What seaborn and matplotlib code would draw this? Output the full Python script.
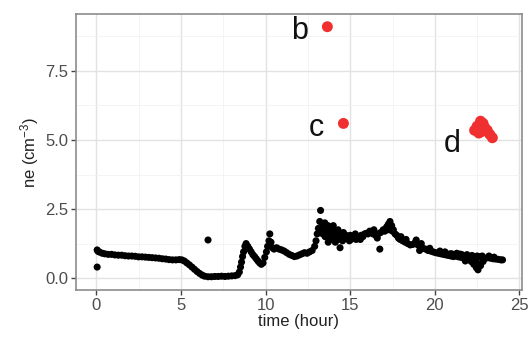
import matplotlib
matplotlib.use("Agg")
import matplotlib.pyplot as plt
import seaborn as sns
import pandas as pd
from matplotlib.ticker import MultipleLocator

# ---- data ----
time_black = [0.05, 0.05, 0.1, 0.2, 0.35, 0.5, 0.7, 0.9, 1.1, 1.3, 1.5, 1.7, 1.9, 2.1, 2.3, 2.5,
              2.7, 2.9, 3.1, 3.3, 3.5, 3.7, 3.9, 4.1, 4.3, 4.5, 4.7, 4.9, 5.05, 5.2, 5.35, 5.5,
              5.65, 5.8, 5.95, 6.1, 6.25, 6.4, 6.6, 6.6, 6.8, 7.0, 7.2, 7.4, 7.6, 7.8, 8.0, 8.2,
              8.35, 8.45, 8.52, 8.58, 8.64, 8.7, 8.78, 8.85, 8.95, 9.05, 9.15, 9.25, 9.35, 9.45,
              9.55, 9.65, 9.75, 9.85, 9.95, 10.05, 10.12, 10.2, 10.25, 10.32, 10.4, 10.5, 10.65,
              10.8, 10.95, 11.1, 11.25, 11.4, 11.55, 11.7, 11.85, 12.0, 12.15, 12.3, 12.45, 12.6,
              12.75, 12.9, 12.98, 13.05, 13.12, 13.2, 13.25, 13.3, 13.38, 13.45, 13.5, 13.52, 13.6,
              13.68, 13.7, 13.75, 13.82, 13.9, 13.98, 14.0, 14.05, 14.12, 14.2, 14.28, 14.35, 14.4,
              14.45, 14.55, 14.65, 14.75, 14.85, 14.95, 15.05, 15.15, 15.25, 15.35, 15.45, 15.55,
              15.65, 15.75, 15.85, 15.95, 16.05, 16.15, 16.25, 16.35, 16.5, 16.65, 16.75, 16.8,
              16.95, 17.05, 17.15, 17.25, 17.3, 17.35, 17.45, 17.55, 17.65, 17.75, 17.85, 17.95,
              18.1, 18.25, 18.4, 18.55, 18.7, 18.85, 18.9, 19.0, 19.15, 19.2, 19.3, 19.45, 19.6,
              19.75, 19.9, 20.05, 20.2, 20.35, 20.5, 20.6, 20.65, 20.8, 20.95, 21.0, 21.1, 21.25,
              21.4, 21.5, 21.55, 21.7, 21.8, 21.85, 21.9, 22.0, 22.15, 22.2, 22.3, 22.4, 22.45,
              22.5, 22.55, 22.6, 22.7, 22.8, 22.85, 23.0, 23.15, 23.3, 23.45, 23.6, 23.75, 23.9, 24.0,
              13.4, 13.65, 13.85, 14.1, 14.3, 14.6, 15.0, 15.3, 15.6, 16.4, 16.6, 17.2, 17.5,
              18.0, 18.3, 19.1, 19.7, 20.3, 20.9, 21.3, 21.6, 22.1, 22.65, 22.9, 23.2, 23.5]
ne_black = [1.02, 0.40, 0.97, 0.94, 0.90, 0.88, 0.86, 0.86, 0.84, 0.83, 0.83, 0.81, 0.80, 0.80, 0.79, 0.77,
            0.77, 0.76, 0.75, 0.74, 0.73, 0.72, 0.70, 0.69, 0.67, 0.66, 0.66, 0.67, 0.66, 0.62, 0.55, 0.48,
            0.40, 0.32, 0.24, 0.17, 0.11, 0.07, 0.05, 1.38, 0.05, 0.06, 0.06, 0.07, 0.06, 0.07, 0.08, 0.09,
            0.12, 0.22, 0.40, 0.58, 0.78, 0.95, 1.15, 1.25, 1.15, 1.05, 0.95, 0.85, 0.78, 0.70,
            0.62, 0.55, 0.50, 0.55, 0.75, 0.95, 1.15, 1.35, 1.60, 1.30, 1.10, 1.05, 1.10,
            1.05, 1.02, 0.98, 0.92, 0.86, 0.82, 0.78, 0.80, 0.84, 0.88, 0.92, 0.90, 0.95,
            1.00, 1.15, 1.35, 1.60, 1.80, 2.05, 2.45, 1.75, 1.60, 1.85, 2.00, 1.50, 1.70,
            1.90, 1.30, 1.55, 1.40, 1.70, 1.60, 1.90, 1.45, 1.30, 1.55, 1.75, 1.60, 1.10,
            1.50, 1.35, 1.45, 1.55, 1.45, 1.35, 1.40, 1.50, 1.45, 1.40, 1.45, 1.50,
            1.55, 1.50, 1.60, 1.62, 1.60, 1.70, 1.65, 1.60, 1.55, 1.60, 1.05, 1.65,
            1.75, 1.70, 1.85, 1.95, 1.75, 2.05, 1.90, 1.75, 1.60, 1.55, 1.45, 1.40,
            1.35, 1.30, 1.25, 1.20, 1.22, 1.30, 1.38, 1.20, 1.12, 1.25, 1.08, 1.05, 1.00,
            0.98, 0.95, 0.92, 0.90, 0.88, 0.86, 0.95, 0.84, 0.82, 0.80, 0.88, 0.78, 0.80,
            0.77, 0.87, 0.75, 0.78, 0.62, 0.74, 0.85, 0.70, 0.60, 0.82, 0.50, 0.65, 0.38,
            0.80, 0.30, 0.52, 0.45, 0.80, 0.60, 0.72, 0.74, 0.72, 0.70, 0.69, 0.68, 0.66, 0.66,
            1.95, 1.80, 1.85, 1.70, 1.40, 1.65, 1.55, 1.60, 1.40, 1.75, 1.45, 1.85, 1.70,
            1.50, 1.40, 1.00, 1.08, 0.98, 0.88, 0.90, 0.85, 0.75, 0.78, 0.70, 0.80, 0.76]

time_red = [13.65, 14.6, 22.35, 22.5, 22.6, 22.7, 22.75, 22.85, 22.95, 23.1, 23.25, 23.4]
ne_red = [9.10, 5.60, 5.35, 5.50, 5.25, 5.68, 5.30, 5.60, 5.45, 5.35, 5.20, 5.08]

label_text = ["b", "c", "d"]
label_time = [12.0, 13.0, 21.05]
label_ne = [8.95, 5.45, 4.85]

x_ticks = [0, 5, 10, 15, 20, 25]
y_ticks = [0.0, 2.5, 5.0, 7.5]

df_black = pd.DataFrame({"time": time_black, "ne": ne_black})
df_red = pd.DataFrame({"time": time_red, "ne": ne_red})

sns.set_style("white")
plt.rcParams["font.family"] = ["Liberation Sans", "DejaVu Sans"]
plt.rcParams["mathtext.default"] = "regular"

fig = plt.figure(figsize=(5.3, 3.4), dpi=100)
ax = fig.add_axes([76 / 530, 1 - 290 / 340, (522 - 76) / 530, (290 - 14) / 340])

sns.scatterplot(data=df_black, x="time", y="ne", ax=ax, color="black", s=26,
                edgecolor="none", linewidth=0, zorder=3)
sns.scatterplot(data=df_red, x="time", y="ne", ax=ax, color="#F03030", s=62,
                edgecolor="none", linewidth=0, zorder=4)

for t, x, y in zip(label_text, label_time, label_ne):
    ax.text(x, y, t, fontsize=22, ha="center", va="center", color="#111111", zorder=5)

ax.set_xlim(-1.2, 25.15)
ax.set_ylim(-0.43, 9.56)
ax.set_xticks(x_ticks)
ax.set_yticks(y_ticks)
ax.set_xticklabels([str(v) for v in x_ticks])
ax.set_yticklabels([f"{v:.1f}" for v in y_ticks])
ax.xaxis.set_minor_locator(MultipleLocator(2.5))
ax.yaxis.set_minor_locator(MultipleLocator(1.25))

ax.grid(which="major", color="#E2E2E2", linewidth=1.0, zorder=0)
ax.grid(which="minor", color="#F2F2F2", linewidth=0.6, zorder=0)
ax.set_axisbelow(True)

for sp in ax.spines.values():
    sp.set_color("#8C8C8C")
    sp.set_linewidth(1.2)

ax.tick_params(axis="both", which="major", length=3.5, width=1, color="#444444",
               labelsize=12, labelcolor="#4D4D4D", pad=2, direction="out",
               bottom=True, left=True)
ax.tick_params(axis="both", which="minor", length=0)

ax.set_xlabel("time (hour)", fontsize=12, color="#222222", labelpad=1)
ax.set_ylabel("ne (cm$^{-3}$)", fontsize=12, color="#222222", labelpad=3)

fig.savefig("out.png", dpi=100, facecolor="white")
